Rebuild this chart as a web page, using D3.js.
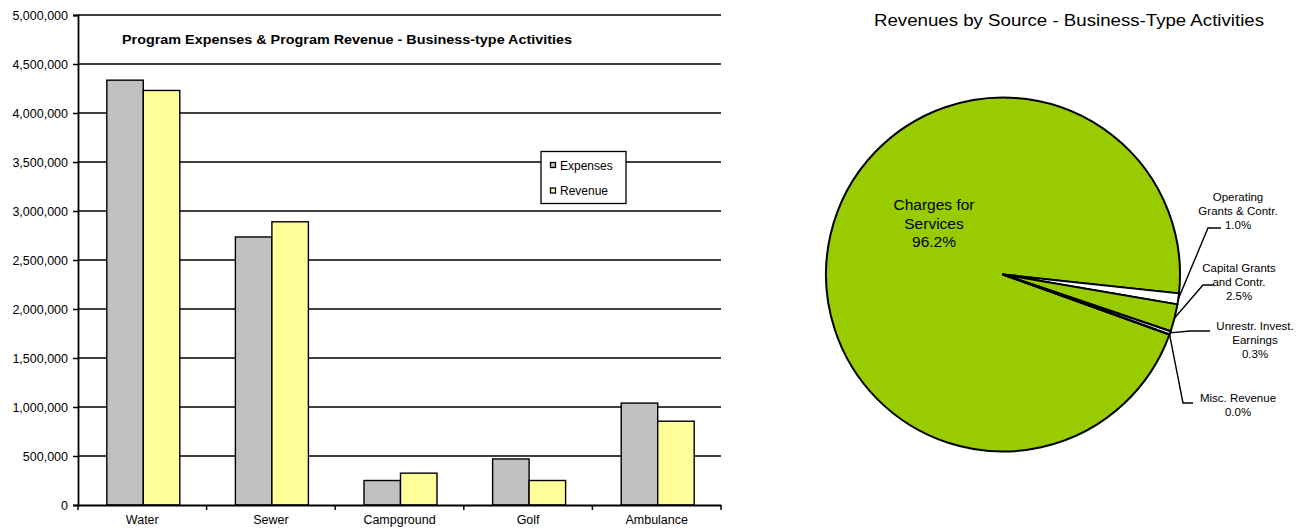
<!DOCTYPE html>
<html><head><meta charset="utf-8">
<script src="https://cdn.jsdelivr.net/npm/d3@7"></script>
<style>body{margin:0;background:#fff}svg{display:block;font-family:"Liberation Sans",Arial,sans-serif}</style>
</head><body><svg id="c" width="1307" height="529"></svg>
<script>
// ---- Bar chart data ----
const categories = ["Water","Sewer","Campground","Golf","Ambulance"];
const seriesNames = ["Expenses","Revenue"];
const expenses = [4335000, 2735000, 250000, 470000, 1040000];
const revenue  = [4230000, 2890000, 325000, 250000, 855000];
const yTicks = [0,500000,1000000,1500000,2000000,2500000,3000000,3500000,4000000,4500000,5000000];
const barColors = ["#C0C0C0","#FFFF99"];
const barTitle = "Program Expenses & Program Revenue - Business-type Activities";

// ---- Pie data ----
const pieLabels = [["Charges for","Services"],["Operating","Grants & Contr."],["Capital Grants","and Contr."],["Unrestr. Invest.","Earnings"],["Misc. Revenue"]];
const pieValues = [96.2, 1.0, 2.5, 0.3, 0.0];
const pieColors = ["#99CC00","#FFFFFF","#99CC00","#FFFFFF","#FFFFFF"];
const pieTitle = "Revenues by Source - Business-Type Activities";

const svg = d3.select("#c");
const fmt = d3.format(",");
const FF = "Liberation Sans, Arial";

// ---- Bar chart ----
const L = 78, R = 721, T = 15, B = 505;
const y = d3.scaleLinear().domain([0,5000000]).range([B,T]);
const x0 = d3.scaleBand().domain(categories).range([L,R]);
const groupW = 73;
const x1 = d3.scaleBand().domain(seriesNames).range([0,groupW]);

const g = svg.append("g");
g.selectAll("line.grid").data(yTicks.filter(d=>d>0)).join("line")
  .attr("x1",L).attr("x2",R).attr("y1",d=>y(d)).attr("y2",d=>y(d))
  .attr("stroke","#000").attr("stroke-width",1.6);
const ya = g.append("g").attr("transform",`translate(${L},0)`)
  .call(d3.axisLeft(y).tickValues(yTicks).tickFormat(fmt).tickSize(5).tickPadding(5));
ya.select(".domain").attr("stroke-width",1.8);
ya.selectAll(".tick line").attr("stroke-width",1.5);
ya.selectAll("text").attr("font-size",12.5).attr("fill","#000").style("font-family",FF);

const rows = categories.map((c,i)=>({c, vals:[expenses[i],revenue[i]]}));
const grp = g.selectAll("g.grp").data(rows).join("g")
  .attr("transform",d=>`translate(${x0(d.c)+(x0.bandwidth()-groupW)/2+1},0)`);
grp.selectAll("rect").data(d=>d.vals.map((v,j)=>({v,s:seriesNames[j],j}))).join("rect")
  .attr("x",d=>x1(d.s)).attr("width",x1.bandwidth())
  .attr("y",d=>y(d.v)).attr("height",d=>B-y(d.v))
  .attr("fill",d=>barColors[d.j]).attr("stroke","#000").attr("stroke-width",1.4);

const xa = g.append("g").attr("transform",`translate(0,${B})`)
  .call(d3.axisBottom(x0).tickSize(0).tickPadding(10));
xa.select(".domain").attr("stroke-width",2);
xa.selectAll("text").attr("font-size",12.5).attr("fill","#000").style("font-family",FF);
g.selectAll("line.xt").data(categories.concat(["_end"])).join("line")
  .attr("x1",(d,i)=>L+i*x0.step()).attr("x2",(d,i)=>L+i*x0.step())
  .attr("y1",B).attr("y2",B+5).attr("stroke","#000").attr("stroke-width",1.5);

g.append("text").attr("x",122).attr("y",44).attr("font-size",13.5).attr("font-weight","bold")
  .attr("textLength",450).attr("lengthAdjust","spacingAndGlyphs").text(barTitle);

const lg = g.append("g");
lg.append("rect").attr("x",541).attr("y",151.5).attr("width",85).attr("height",52)
  .attr("fill","#fff").attr("stroke","#000").attr("stroke-width",1.3);
seriesNames.forEach((s,i)=>{
  lg.append("rect").attr("x",550.5).attr("y",162.5+i*25.5).attr("width",5).attr("height",5)
    .attr("fill",barColors[i]).attr("stroke","#000").attr("stroke-width",1.3);
  lg.append("text").attr("x",560).attr("y",169.5+i*25.5).attr("font-size",12).text(s);
});

// ---- Pie ----
const cx = 1003, cy = 274.5, r = 177;
const a0 = 109.8*Math.PI/180;
const pie = d3.pie().sort(null).startAngle(a0).endAngle(a0+2*Math.PI);
const arcs = pie(pieValues);
const arc = d3.arc().innerRadius(0).outerRadius(r);
const pg = svg.append("g").attr("transform",`translate(${cx},${cy})`);
pg.selectAll("path").data(arcs).join("path")
  .attr("d",arc).attr("fill",(d,i)=>pieColors[i])
  .attr("stroke","#000").attr("stroke-width",2).attr("stroke-linejoin","round");

svg.append("text").attr("x",1069).attr("y",26).attr("text-anchor","middle")
  .attr("font-size",16).attr("textLength",390).attr("lengthAdjust","spacingAndGlyphs").text(pieTitle);

const ml = svg.append("text").attr("text-anchor","middle").attr("font-size",15.5);
[...pieLabels[0], (pieValues[0]).toFixed(1)+"%"].forEach((t,k)=>{
  ml.append("tspan").attr("x",934).attr("y",210+k*18.5).text(t);
});

const labelPos = [null,
  {lx:1238, ly:201, hx1:1208, hx2:1221, hy:228},
  {lx:1239, ly:272, hx1:1203, hx2:1214, hy:285},
  {lx:1255, ly:330, hx1:1190, hx2:1210, hy:331},
  {lx:1238, ly:402, hx1:1183, hx2:1193, hy:403}];
arcs.forEach((d,i)=>{
  if(i===0) return;
  const p = labelPos[i];
  const m = (d.startAngle+d.endAngle)/2;
  const ex = cx + r*Math.sin(m), ey = cy - r*Math.cos(m);
  svg.append("polyline").attr("points",`${ex},${ey} ${p.hx1},${p.hy} ${p.hx2},${p.hy}`)
    .attr("fill","none").attr("stroke","#000").attr("stroke-width",1.4);
  const t = svg.append("text").attr("text-anchor","middle").attr("font-size",11.5);
  [...pieLabels[i], pieValues[i].toFixed(1)+"%"].forEach((s,k)=>{
    t.append("tspan").attr("x",p.lx).attr("y",p.ly+k*13.8).text(s);
  });
});
</script></body></html>
